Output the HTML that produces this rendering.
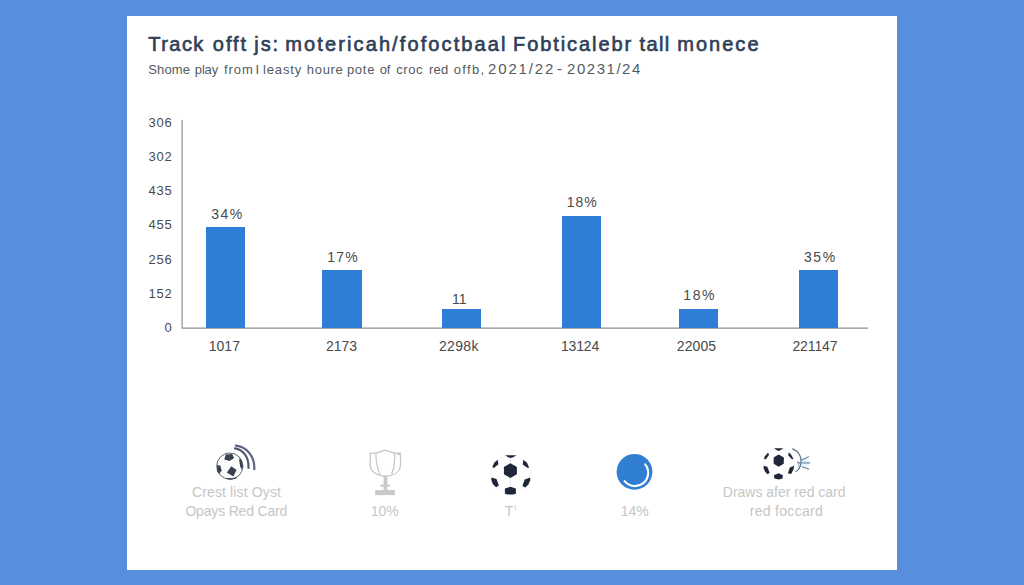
<!DOCTYPE html>
<html><head><meta charset="utf-8"><title>chart</title>
<style>
html,body{margin:0;padding:0}
body{width:1024px;height:585px;background:#598ddd;position:relative;overflow:hidden;font-family:"Liberation Sans", sans-serif}
.card{position:absolute;left:127px;top:16px;width:770px;height:554px;background:#fff}
.t{position:absolute;white-space:pre;line-height:20px;height:20px}
.bar{position:absolute;background:#2f7dd6}
svg{position:absolute;left:0;top:0}
</style></head><body>
<div class="card"></div>
<svg width="1024" height="585" viewBox="0 0 1024 585"><path d="M182.1,119.8 V328.2 H868.3" fill="none" stroke="#88919e" stroke-width="1.2" stroke-linejoin="round"/></svg>
<div class="bar" style="left:205.9px;top:227.0px;width:39.5px;height:101.3px"></div>
<div class="bar" style="left:322.0px;top:270.0px;width:39.9px;height:58.3px"></div>
<div class="bar" style="left:441.5px;top:309.4px;width:39.4px;height:18.9px"></div>
<div class="bar" style="left:562.0px;top:216.0px;width:38.9px;height:112.3px"></div>
<div class="bar" style="left:679.2px;top:309.4px;width:39.1px;height:18.9px"></div>
<div class="bar" style="left:799.1px;top:270.0px;width:39.4px;height:58.3px"></div>
<div class="t" style="left:148.22px;top:34.07px;font-size:20px;color:#2f4158;-webkit-text-stroke:0.65px #2f4158;letter-spacing:1.473px;">Track</div>
<div class="t" style="left:212.82px;top:34.07px;font-size:20px;color:#2f4158;-webkit-text-stroke:0.65px #2f4158;letter-spacing:1.958px;">offt</div>
<div class="t" style="left:254.32px;top:34.07px;font-size:20px;color:#2f4158;-webkit-text-stroke:0.65px #2f4158;letter-spacing:1.903px;">js:</div>
<div class="t" style="left:285.32px;top:34.07px;font-size:20px;color:#2f4158;-webkit-text-stroke:0.65px #2f4158;letter-spacing:2.110px;">motericah/fofoctbaal</div>
<div class="t" style="left:513.03px;top:34.07px;font-size:20px;color:#2f4158;-webkit-text-stroke:0.65px #2f4158;letter-spacing:1.927px;">Fobticalebr</div>
<div class="t" style="left:639.53px;top:34.07px;font-size:20px;color:#2f4158;-webkit-text-stroke:0.65px #2f4158;letter-spacing:1.342px;">tall</div>
<div class="t" style="left:677.33px;top:34.07px;font-size:20px;color:#2f4158;-webkit-text-stroke:0.65px #2f4158;letter-spacing:2.004px;">monece</div>
<div class="t" style="left:148.30px;top:59.50px;font-size:13px;color:#555a60;letter-spacing:0.110px;">Shome</div>
<div class="t" style="left:194.80px;top:59.50px;font-size:13px;color:#555a60;letter-spacing:-0.149px;">play</div>
<div class="t" style="left:224.00px;top:59.50px;font-size:13px;color:#555a60;letter-spacing:0.943px;">from</div>
<div class="t" style="left:255.40px;top:59.50px;font-size:13px;color:#555a60;">I</div>
<div class="t" style="left:263.00px;top:59.50px;font-size:13px;color:#555a60;letter-spacing:0.848px;">leasty</div>
<div class="t" style="left:306.80px;top:59.50px;font-size:13px;color:#555a60;letter-spacing:0.695px;">houre</div>
<div class="t" style="left:346.90px;top:59.50px;font-size:13px;color:#555a60;letter-spacing:0.743px;">pote</div>
<div class="t" style="left:379.70px;top:59.50px;font-size:13px;color:#555a60;letter-spacing:-0.130px;">of</div>
<div class="t" style="left:396.30px;top:59.50px;font-size:13px;color:#555a60;letter-spacing:0.547px;">croc</div>
<div class="t" style="left:428.90px;top:59.50px;font-size:13px;color:#555a60;letter-spacing:0.270px;">red</div>
<div class="t" style="left:453.70px;top:59.50px;font-size:13px;color:#555a60;letter-spacing:1.363px;">offb,</div>
<div class="t" style="left:488.00px;top:58.80px;font-size:15px;color:#555a60;letter-spacing:1.854px;">2021/22</div>
<div class="t" style="left:556.90px;top:58.80px;font-size:15px;color:#555a60;">-</div>
<div class="t" style="left:567.00px;top:58.80px;font-size:15px;color:#555a60;letter-spacing:1.540px;">20231/24</div>
<div class="t" style="left:148.50px;top:112.50px;font-size:13px;color:#4a4a4a;letter-spacing:0.720px;">306</div>
<div class="t" style="left:148.50px;top:146.50px;font-size:13px;color:#4a4a4a;letter-spacing:0.720px;">302</div>
<div class="t" style="left:148.50px;top:180.50px;font-size:13px;color:#4a4a4a;letter-spacing:0.720px;">435</div>
<div class="t" style="left:148.50px;top:215.30px;font-size:13px;color:#4a4a4a;letter-spacing:0.720px;">455</div>
<div class="t" style="left:148.50px;top:249.50px;font-size:13px;color:#4a4a4a;letter-spacing:0.720px;">256</div>
<div class="t" style="left:148.50px;top:284.10px;font-size:13px;color:#4a4a4a;letter-spacing:0.720px;">152</div>
<div class="t" style="left:164.40px;top:318.10px;font-size:13px;color:#4a4a4a;">0</div>
<div class="t" style="left:211.20px;top:203.95px;font-size:14px;color:#4a4a4a;letter-spacing:1.464px;">34%</div>
<div class="t" style="left:327.30px;top:246.95px;font-size:14px;color:#4a4a4a;letter-spacing:1.214px;">17%</div>
<div class="t" style="left:451.90px;top:288.55px;font-size:14px;color:#4a4a4a;letter-spacing:0.153px;">11</div>
<div class="t" style="left:566.70px;top:192.15px;font-size:14px;color:#4a4a4a;letter-spacing:1.014px;">18%</div>
<div class="t" style="left:683.20px;top:284.55px;font-size:14px;color:#4a4a4a;letter-spacing:1.664px;">18%</div>
<div class="t" style="left:803.90px;top:247.25px;font-size:14px;color:#4a4a4a;letter-spacing:1.614px;">35%</div>
<div class="t" style="left:208.70px;top:336.15px;font-size:14px;color:#4a4a4a;letter-spacing:0.047px;">1017</div>
<div class="t" style="left:326.00px;top:336.15px;font-size:14px;color:#4a4a4a;letter-spacing:-0.019px;">2173</div>
<div class="t" style="left:439.00px;top:336.15px;font-size:14px;color:#4a4a4a;letter-spacing:0.314px;">2298k</div>
<div class="t" style="left:561.00px;top:336.15px;font-size:14px;color:#4a4a4a;letter-spacing:-0.186px;">13124</div>
<div class="t" style="left:676.80px;top:336.15px;font-size:14px;color:#4a4a4a;letter-spacing:0.089px;">22005</div>
<div class="t" style="left:792.40px;top:336.15px;font-size:14px;color:#4a4a4a;letter-spacing:-0.098px;">221147</div>
<div class="t" style="left:192.00px;top:482.15px;font-size:14px;color:#c6c6c6;letter-spacing:0.127px;">Crest list Oyst</div>
<div class="t" style="left:185.40px;top:501.15px;font-size:14px;color:#c6c6c6;letter-spacing:-0.176px;">Opays Red Card</div>
<div class="t" style="left:370.70px;top:500.85px;font-size:14px;color:#c6c6c6;letter-spacing:-0.036px;">10%</div>
<div class="t" style="left:504.80px;top:500.55px;font-size:14px;color:#c6c6c6;">T</div>
<div class="t" style="left:514.30px;top:498.23px;font-size:8px;color:#c6c6c6;">l</div>
<div class="t" style="left:620.70px;top:500.85px;font-size:14px;color:#c6c6c6;letter-spacing:-0.036px;">14%</div>
<div class="t" style="left:722.80px;top:482.15px;font-size:14px;color:#c6c6c6;letter-spacing:-0.014px;">Draws afer red card</div>
<div class="t" style="left:749.80px;top:500.95px;font-size:14px;color:#c6c6c6;letter-spacing:0.295px;">red foccard</div>
<svg width="1024" height="585" viewBox="0 0 1024 585">
<!-- icon 1: ball with motion arcs -->
<g>
<circle cx="229.8" cy="466.1" r="13.1" fill="#fdfdfd" stroke="#4b5260" stroke-width="0.9"/>
<g fill="#3a4250">
<polygon points="225.7,454.4 232.1,454 234.1,458.1 229.6,461 224.3,459.5"/>
<polygon points="231.3,466.3 236.6,470 233.3,476.6 226.8,472.5"/>
<polygon points="217.3,465.1 220.2,465.5 221.8,470.4 219,474.1 216.9,470.8"/>
<path d="M239.9,457.7 Q242.4,461 242.9,466 Q242.8,468.5 241.9,469.8 L240.3,466.7 L239.1,460.2 Z"/>
<path d="M226.8,478.6 Q231.5,480.2 236.4,477.9 Q231.5,479 226.8,478.6 Z" stroke="#3a4250" stroke-width="0.8"/>
</g>
<path d="M235,448.3 C243,449.5 249,457 248.5,468" fill="none" stroke="#535d6e" stroke-width="2.2" stroke-linecap="round"/>
<path d="M235.8,445.7 C246,446.5 255,456 254.3,469.2" fill="none" stroke="#5b6784" stroke-width="2.2" stroke-linecap="round"/>
</g>
<!-- icon 2: trophy -->
<g fill="none" stroke="#c6c6c6" stroke-width="1.25" stroke-linejoin="round">
<path d="M375.9,453.1 L370.2,453.1 L370.2,465 C370.6,472 377,475.8 385.3,476.2 C393.8,475.8 400.1,472 400.5,465 L400.5,453.1 L394.7,453.1"/>
<path d="M375.9,453.1 L384.8,450.1 L394.7,453.1 C395,462 394,469 391.7,473.6"/>
<path d="M375.9,453.1 C375.8,462 377.5,469.5 380.3,474.7"/>
<path d="M397.2,454.3 L400,454.3" stroke-width="1.6"/>
</g>
<g fill="#c9c9c9">
<rect x="383.6" y="476" width="3.7" height="14.6"/>
<rect x="380.3" y="484.6" width="9.6" height="2.1" rx="1"/>
<rect x="375.1" y="490.1" width="19.8" height="5"/>
</g>
<!-- icon 3: ball -->
<g>
<circle cx="510.9" cy="474.9" r="19.9" fill="#fefefe" stroke="#f3f3f3" stroke-width="0.8"/>
<g stroke="#e3e3e6" stroke-width="0.7"><path d="M510.6,458 L510.4,463.2 M510.4,478 L510.4,486.8"/></g>
<g fill="#20263a">
<polygon points="505.1,455.2 516.4,455.2 513.2,457.2 510.7,458 508.1,457.2"/>
<polygon points="510.4,463.2 516.9,466.9 516.9,474.3 510.4,478 503.9,474.3 503.9,466.9"/>
<polygon points="497.7,459.8 498.4,464.2 493.8,468.1 492.4,466.9 494.2,462.8"/>
<polygon points="523.3,459.8 527,462.8 529.1,467.4 527.7,468.1 522.7,464.4"/>
<polygon points="491.5,477.4 496.5,478.9 498.9,485.4 496.1,487.2 492.8,484 491.3,479.9"/>
<polygon points="530.1,477.4 530.2,480.3 528.4,484.5 525.2,487.5 522.4,485.9 524.7,479.4"/>
<polygon points="510.4,486.8 515.9,488.6 515.9,493.7 512.7,494.4 508.1,494.4 504.9,493.7 504.9,488.6"/>
</g>
</g>
<!-- icon 4: blue circle -->
<g>
<circle cx="634.5" cy="471.8" r="17.9" fill="#317fd3"/>
<path d="M645.2,464.4 A12.6,12.6 0 0 1 624.6,481.2" fill="none" stroke="#fff" stroke-width="2.1" stroke-linecap="round"/>
</g>
<!-- icon 5: ball with splash -->
<g>
<circle cx="778.8" cy="463.7" r="15.5" fill="#fefefe" stroke="#f3f3f3" stroke-width="0.8"/>
<g fill="#20263a">
<polygon points="774,448.2 783.3,448.2 780.8,450 778.6,451.1 776.5,450"/>
<polygon points="778.6,454.6 783.9,457.6 783.7,463.8 778.6,466.7 773.7,463.8 773.7,457.6"/>
<polygon points="768,452.7 769.1,454.8 766.1,459 764,459.3 764.7,456.4"/>
<polygon points="788.8,452.3 791.5,455.2 793.4,459 791.9,459.3 788.2,455.2"/>
<polygon points="763.6,465.8 767.3,466.7 769.6,472.8 767.7,474.3 765.3,472 763.6,468.3"/>
<polygon points="794,465.8 793.6,469.1 791.1,474 787.8,473.2 789.9,467.5"/>
<polygon points="778.6,473.2 782.9,475.3 782.5,478.6 778.8,479.5 774.3,478.6 774,475.3"/>
</g>
<ellipse cx="803.8" cy="463" rx="5.8" ry="5.2" fill="#eaf4fb"/>
<path d="M792.7,448.9 C799,451.5 801.5,457 801,461.5 C800.8,466 799.5,469.5 796,471.6" fill="none" stroke="#5c7285" stroke-width="1.2" stroke-linecap="round"/>
<path d="M796.8,460.9 C799,462 799.6,465.5 797.7,467.5" fill="none" stroke="#8fb2cc" stroke-width="1"/>
<g stroke="#6f8ea6" stroke-width="1.2" stroke-linecap="round">
<path d="M801.4,460.1 L808.7,456.8"/>
<path d="M797.7,462.8 L809.6,462.8"/>
<path d="M802.2,466.7 L808.7,469.1"/>
</g>
</g>
</svg>
</body></html>
